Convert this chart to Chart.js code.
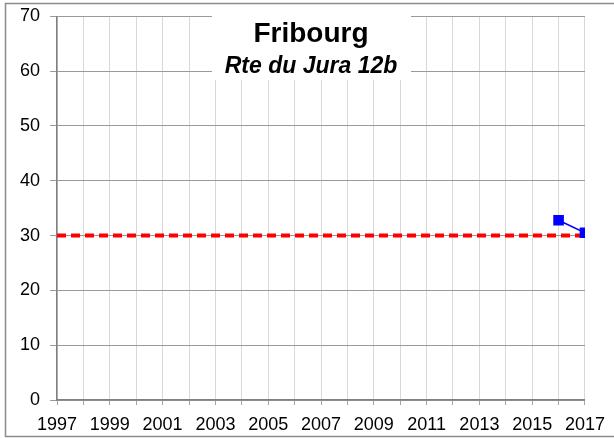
<!DOCTYPE html>
<html>
<head>
<meta charset="utf-8">
<script src="https://cdn.jsdelivr.net/npm/chart.js@4/dist/chart.umd.min.js"></script>
<style>
  html, body { margin: 0; padding: 0; background: #fff; }
  #wrap { width: 614px; height: 438px; position: relative; }
</style>
</head>
<body>
<div id="wrap"><canvas id="chart" width="614" height="438"></canvas></div>
<script>
// données
const limitYears = [1997, 2017];
const limitValues = [30, 30];
const measureYears = [2016, 2017];
const measureValues = [32.8, 30.5];
const yTicks = [0, 10, 20, 30, 40, 50, 60, 70];
const titleText = "Fribourg";
const subtitleText = "Rte du Jura 12b";

const fontFamily = "'Liberation Sans', Arial, sans-serif";

// cadre gris autour du graphique + encadré blanc du titre
const frameTitle = {
    id: "frameTitle",
    afterDraw(chart) {
        const ctx = chart.ctx;
        ctx.save();
        ctx.strokeStyle = "#8c8c8c";
        ctx.lineWidth = 1.5;
        ctx.strokeRect(5.5, 3.5, chart.width + 10, chart.height - 5);

        const cx = 311;
        ctx.fillStyle = "#ffffff";
        ctx.fillRect(212, 10, 199, 70);

        ctx.fillStyle = "#000000";
        ctx.textAlign = "center";
        ctx.textBaseline = "alphabetic";
        ctx.font = "bold 28px " + fontFamily;
        ctx.fillText(titleText, cx, 42);
        ctx.font = "italic bold 23px " + fontFamily;
        ctx.fillText(subtitleText, cx, 73);
        ctx.restore();
    },
};

const ctx = document.getElementById("chart").getContext("2d");

new Chart(ctx, {
    type: "line",
    data: {
        datasets: [
            {
                label: "Valeur limite",
                data: limitYears.map((x, i) => ({ x: x, y: limitValues[i] })),
                borderColor: "#ff0000",
                borderWidth: 4,
                borderDash: [9, 5],
                pointRadius: 0,
                order: 2,
            },
            {
                label: "Mesures",
                data: measureYears.map((x, i) => ({ x: x, y: measureValues[i] })),
                borderColor: "#0000ff",
                backgroundColor: "#0000ff",
                borderWidth: 1.5,
                pointStyle: "rect",
                pointRadius: 7.5,
                pointBorderWidth: 0,
                order: 1,
            },
        ],
    },
    options: {
        responsive: false,
        animation: false,
        layout: { padding: { top: 12, right: 26, left: 10, bottom: 0 } },
        plugins: {
            legend: { display: false },
            tooltip: { enabled: false },
        },
        scales: {
            x: {
                type: "linear",
                min: 1997,
                max: 2017,
                afterFit: (axis) => {
                    axis.height = 38;
                },
                ticks: {
                    stepSize: 1,
                    autoSkip: false,
                    maxRotation: 0,
                    color: "#000",
                    font: { size: 18, family: fontFamily },
                    padding: 9,
                    callback: (v) => ((v - 1997) % 2 === 0 ? String(v) : ""),
                },
                grid: { color: "#d9d9d9", tickColor: "#a6a6a6", tickLength: 5 },
                border: { color: "#808080", width: 1.5 },
            },
            y: {
                min: 0,
                max: 70,
                afterBuildTicks: (axis) => {
                    axis.ticks = yTicks.map((v) => ({ value: v }));
                },
                ticks: {
                    color: "#000",
                    font: { size: 18, family: fontFamily, lineHeight: 0.7 },
                    padding: 10,
                },
                grid: { color: "#9a9a9a", tickColor: "#9a9a9a", tickLength: 7 },
                border: { color: "#808080", width: 1.5 },
            },
        },
    },
    plugins: [frameTitle],
});
</script>
</body>
</html>
